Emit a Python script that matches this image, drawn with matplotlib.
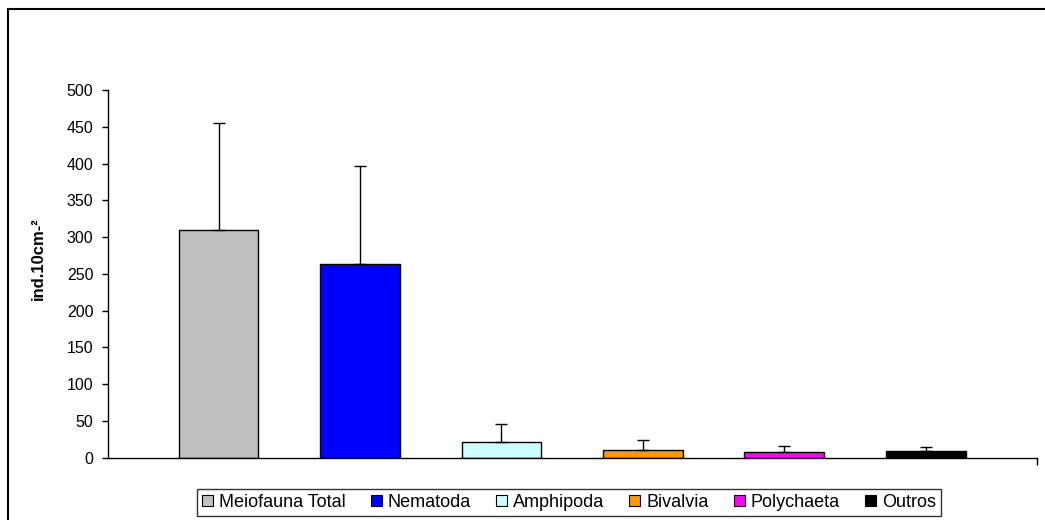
import matplotlib
matplotlib.use("Agg")
import matplotlib.pyplot as plt
from matplotlib.patches import Rectangle, Patch

plt.rcParams['font.family'] = ['Liberation Sans', 'DejaVu Sans']

groups = ['Meiofauna Total', 'Nematoda', 'Amphipoda', 'Bivalvia', 'Polychaeta', 'Outros']
means = [310, 263, 21, 10, 8, 8.5]
errors = [145, 133, 25, 14, 8, 6]
colors = ['#C0C0C0', '#0000FF', '#CCFFFF', '#FF9900', '#FF00FF', '#000000']
yticks = [0, 50, 100, 150, 200, 250, 300, 350, 400, 450, 500]

W, H = 1045, 520
fig = plt.figure(figsize=(W / 100, H / 100), dpi=100)
ax = fig.add_axes([108 / W, 1 - 457.7 / H, (1037 - 108) / W, (457.7 - 90) / H])

x = list(range(len(groups)))
ax.bar(x, means, width=0.565, color=colors, edgecolor='black', linewidth=1, zorder=2)
ax.errorbar(x, means, yerr=[[0] * len(errors), errors], fmt='none',
            ecolor='black', elinewidth=1, capsize=4, capthick=1, zorder=3)

ax.set_xlim(-0.781, 5.785)
ax.set_ylim(0, 500)
ax.set_yticks(yticks)
ax.set_xticks([5.785])
ax.set_xticklabels([''])
ax.tick_params(axis='y', direction='out', length=4.5, width=1, labelsize=11.5, pad=6)
ax.tick_params(axis='x', direction='out', length=5, width=1)
for s in ['top', 'right']:
    ax.spines[s].set_visible(False)
for s in ['left', 'bottom']:
    ax.spines[s].set_linewidth(1)

fig.text(38 / W, 1 - 259 / H, 'ind.10cm-²', rotation=90, fontsize=12,
         fontweight='bold', ha='center', va='center')

handles = [Patch(facecolor=c, edgecolor='black', linewidth=0.8) for c in colors]
leg = fig.legend(handles, groups, loc='center', bbox_to_anchor=(569 / W, 1 - 502.5 / H),
                 ncol=6, fontsize=13, frameon=True, fancybox=False,
                 handlelength=0.6, handleheight=0.6, handletextpad=0.35,
                 columnspacing=1.38, borderpad=0.25, borderaxespad=0)
leg.get_frame().set_edgecolor('black')
leg.get_frame().set_linewidth(1)

fig.patches.append(Rectangle((8 / W, -0.2), 1.2, 1.2 - 9 / H,
                             transform=fig.transFigure, fill=False,
                             edgecolor='black', linewidth=1.5))

fig.savefig('out.png', dpi=100)
